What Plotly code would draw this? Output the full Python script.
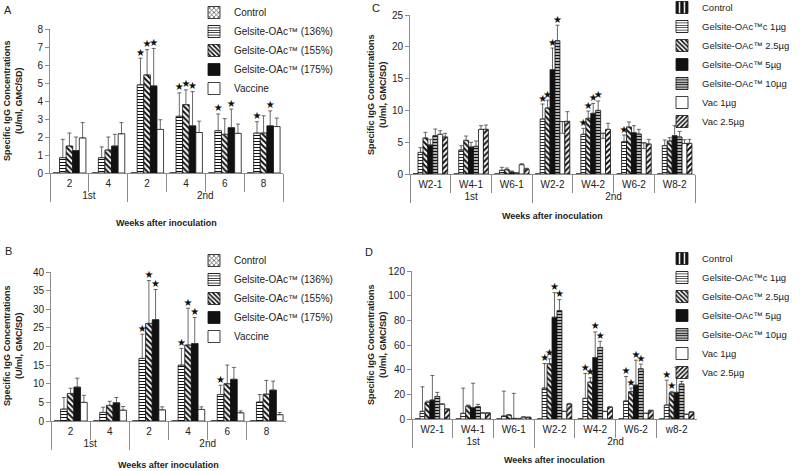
import plotly.graph_objects as go

FONT = "Liberation Sans, Arial, sans-serif"

# ---------------- Panels A and B ----------------
ab_outer = ["1st", "1st", "2nd", "2nd", "2nd", "2nd"]
ab_inner = ["2", "4", "2", "4", "6", "8"]
ab_names = ["Control", "Gelsite-OAc™ (136%)", "Gelsite-OAc™ (155%)",
            "Gelsite-OAc™ (175%)", "Vaccine"]

# Panel A values (U/ml) and upper SD
a_control = [0, 0, 0, 0, 0, 0]
a_g136 = [0.85, 0.85, 4.90, 3.15, 2.35, 2.22]
a_g155 = [1.50, 1.28, 5.45, 3.80, 2.15, 2.22]
a_g175 = [1.25, 1.50, 4.84, 2.62, 2.52, 2.62]
a_vac = [1.95, 2.18, 2.42, 2.25, 2.20, 2.58]
a_err_control = [0, 0, 0, 0, 0, 0]
a_err_g136 = [1.02, 0.60, 1.48, 1.30, 0.93, 0.63]
a_err_g155 = [0.72, 0.72, 1.40, 0.82, 0.87, 0.96]
a_err_g175 = [0.75, 0.65, 2.08, 1.90, 1.03, 0.83]
a_err_vac = [0.85, 0.62, 0.54, 0.63, 0.52, 0.47]
a_star_g136 = [0, 0, 1, 1, 1, 1]
a_star_g155 = [0, 0, 1, 1, 0, 0]
a_star_g175 = [0, 0, 1, 1, 1, 1]

# Panel B values
b_control = [0, 0, 0, 0, 0, 0]
b_g136 = [3.2, 2.3, 16.8, 15.0, 7.1, 5.1]
b_g155 = [7.4, 4.2, 26.2, 20.4, 10.0, 7.2]
b_g175 = [9.1, 4.9, 27.2, 20.8, 11.2, 8.3]
b_vac = [5.0, 2.9, 3.0, 3.1, 2.2, 1.7]
b_err_control = [0, 0, 0, 0, 0, 0]
b_err_g136 = [3.1, 1.4, 6.5, 4.5, 2.5, 2.0]
b_err_g155 = [1.4, 1.1, 11.5, 9.9, 5.0, 3.7]
b_err_g175 = [2.4, 1.4, 8.1, 7.0, 3.2, 2.4]
b_err_vac = [1.9, 1.0, 0.8, 0.7, 0.5, 0.6]
b_star_g136 = [0, 0, 1, 1, 1, 0]
b_star_g155 = [0, 0, 1, 1, 0, 0]
b_star_g175 = [0, 0, 1, 1, 0, 0]

# ---------------- Panels C and D ----------------
cd_outer = ["1st", "1st", "1st", "2nd", "2nd", "2nd", "2nd"]
c_inner = ["W2-1", "W4-1", "W6-1", "W2-2", "W4-2", "W6-2", "W8-2"]
d_inner = ["W2-1", "W4-1", "W6-1", "W2-2", "W4-2", "W6-2", "w8-2"]
cd_names = ["Control", "Gelsite-OAc™c 1µg", "Gelsite-OAc™ 2.5µg",
            "Gelsite-OAc™ 5µg", "Gelsite-OAc™ 10µg", "Vac 1µg", "Vac 2.5µg"]

# Panel C values
c_control = [0.05, 0, 0, 0, 0, 0, 0]
c_g1 = [3.40, 3.77, 0.58, 8.65, 6.24, 5.08, 4.45]
c_g25 = [5.66, 5.29, 0.68, 10.38, 8.75, 7.39, 5.19]
c_g5 = [4.56, 4.25, 0.31, 16.40, 9.54, 6.50, 6.03]
c_g10 = [6.03, 4.35, 0.15, 20.96, 10.00, 6.29, 5.82]
c_vac1 = [6.24, 7.02, 1.47, 8.25, 6.40, 4.90, 4.80]
c_vac25 = [5.82, 7.02, 0.79, 8.28, 7.02, 4.72, 4.82]
c_err_control = [0, 0, 0, 0, 0, 0, 0]
c_err_g1 = [0.75, 0.68, 0.47, 2.35, 0.94, 1.05, 0.90]
c_err_g25 = [0.89, 0.68, 0.26, 1.22, 1.15, 0.79, 0.52]
c_err_g5 = [0.89, 0.73, 0.16, 3.40, 1.56, 1.10, 1.57]
c_err_g10 = [1.04, 0.84, 0.05, 2.44, 1.48, 0.73, 0.88]
c_err_vac1 = [0.56, 0.58, 0.15, 0, 0, 0, 0.60]
c_errminus_vac1 = [0, 0, 0, 1.85, 0.80, 0.90, 0]
c_err_vac25 = [0.57, 0.68, 0.11, 1.52, 0.95, 0.73, 0.63]
c_star_g1 = [0, 0, 0, 1, 1, 1, 0]
c_star_g25 = [0, 0, 0, 1, 1, 0, 0]
c_star_g5 = [0, 0, 0, 1, 1, 0, 0]
c_star_g10 = [0, 0, 0, 1, 1, 0, 0]

# Panel D values
d_control = [0, 0, 0, 0, 0, 0, 0]
d_g1 = [6.2, 4.6, 2.4, 25.1, 16.7, 14.6, 11.3]
d_g25 = [13.5, 10.5, 3.2, 44.7, 29.9, 22.1, 21.3]
d_g5 = [15.4, 9.2, 0.5, 82.5, 49.9, 27.5, 21.6]
d_g10 = [18.3, 10.0, 0.3, 87.9, 58.0, 40.7, 28.3]
d_vac1 = [12.1, 4.9, 1.6, 6.2, 6.2, 4.6, 3.8]
d_vac25 = [8.1, 4.9, 1.4, 12.1, 9.7, 7.0, 5.7]
d_err_control = [0, 0, 0, 0, 0, 0, 0]
d_err_g1 = [19.9, 20.4, 20.2, 19.9, 20.2, 19.9, 20.2]
d_err_g25 = [1.0, 0.8, 0.5, 4.1, 3.5, 3.0, 1.1]
d_err_g5 = [19.9, 19.8, 20.3, 19.9, 20.7, 20.2, 20.2]
d_err_g10 = [3.3, 1.9, 0.2, 8.9, 5.0, 3.8, 2.2]
d_err_vac1 = [0, 0, 0, 0, 0, 0, 0]
d_err_vac25 = [0, 0, 0, 0.6, 0, 0, 0]
d_star_g1 = [0, 0, 0, 1, 1, 1, 1]
d_star_g25 = [0, 0, 0, 1, 1, 1, 1]
d_star_g5 = [0, 0, 0, 1, 1, 1, 0]
d_star_g10 = [0, 0, 0, 1, 1, 1, 0]

a_y_ticks = [0, 1, 2, 3, 4, 5, 6, 7, 8]
b_y_ticks = [0, 5, 10, 15, 20, 25, 30, 35, 40]
c_y_ticks = [0, 5, 10, 15, 20, 25]
d_y_ticks = [0, 20, 40, 60, 80, 100, 120]

x_title = "Weeks after inoculation"
y_title = "Specific IgG Concentrations<br>(U/ml, GMC/SD)"

# ---------------- styles ----------------
LINE = dict(color="#111111", width=0.8)


def pat(shape, fg="#111111", bg="white", size=4, solidity=0.4):
    return dict(shape=shape, fgcolor=fg, bgcolor=bg, size=size,
                solidity=solidity, fillmode="replace")


ab_styles = [
    dict(color="white", pattern=pat("x", size=4, solidity=0.3), line=LINE),
    dict(color="white", pattern=pat("-", size=3, solidity=0.35), line=LINE),
    dict(color="white", pattern=pat("\\", size=4, solidity=0.5), line=LINE),
    dict(color="#111111", line=LINE),
    dict(color="white", line=LINE),
]
cd_styles = [
    dict(color="#111111", pattern=pat("|", fg="white", bg="#111111", size=6, solidity=0.3), line=LINE),
    dict(color="white", pattern=pat("-", size=3, solidity=0.3), line=LINE),
    dict(color="white", pattern=pat("\\", size=4, solidity=0.5), line=LINE),
    dict(color="#111111", line=LINE),
    dict(color="white", pattern=pat("-", size=3, solidity=0.55), line=LINE),
    dict(color="white", line=LINE),
    dict(color="white", pattern=pat("/", size=4, solidity=0.5), line=LINE),
]

fig = go.Figure()


def add_panel(idx, outer, inner, names, vals, errs, stars, styles, legend,
              errminus=None):
    xa = "x" if idx == 1 else f"x{idx}"
    ya = "y" if idx == 1 else f"y{idx}"
    xcat = [outer, inner]
    for i, (name, v, e, st) in enumerate(zip(names, vals, errs, styles)):
        em = errminus.get(i) if errminus else None
        err = dict(type="data", array=e, symmetric=False,
                   arrayminus=em if em is not None else [0] * len(e),
                   color="#444444", thickness=0.8, width=2)
        fig.add_trace(go.Bar(
            x=xcat, y=v, name=name, marker=st, error_y=err,
            offsetgroup=f"p{idx}s{i}", xaxis=xa, yaxis=ya, legend=legend))
        if stars.get(i):
            flags = stars[i]
            ys = [vv + ee if f else None for vv, ee, f in zip(v, e, flags)]
            fig.add_trace(go.Scatter(
                x=xcat, y=ys, mode="text", text="★", textposition="top center",
                textfont=dict(size=10, color="#111111", family="DejaVu Sans"),
                offsetgroup=f"p{idx}s{i}", xaxis=xa, yaxis=ya,
                showlegend=False, hoverinfo="skip", cliponaxis=False))
        else:
            fig.add_trace(go.Scatter(
                x=xcat, y=[None] * len(v), mode="text", text="",
                offsetgroup=f"p{idx}s{i}", xaxis=xa, yaxis=ya,
                showlegend=False, hoverinfo="skip"))


add_panel(1, ab_outer, ab_inner, ab_names,
          [a_control, a_g136, a_g155, a_g175, a_vac],
          [a_err_control, a_err_g136, a_err_g155, a_err_g175, a_err_vac],
          {1: a_star_g136, 2: a_star_g155, 3: a_star_g175}, ab_styles, "legend")
add_panel(2, ab_outer, ab_inner, ab_names,
          [b_control, b_g136, b_g155, b_g175, b_vac],
          [b_err_control, b_err_g136, b_err_g155, b_err_g175, b_err_vac],
          {1: b_star_g136, 2: b_star_g155, 3: b_star_g175}, ab_styles, "legend2")
add_panel(3, cd_outer, c_inner, cd_names,
          [c_control, c_g1, c_g25, c_g5, c_g10, c_vac1, c_vac25],
          [c_err_control, c_err_g1, c_err_g25, c_err_g5, c_err_g10, c_err_vac1, c_err_vac25],
          {1: c_star_g1, 2: c_star_g25, 3: c_star_g5, 4: c_star_g10}, cd_styles, "legend3",
          errminus={5: c_errminus_vac1})
add_panel(4, cd_outer, d_inner, cd_names,
          [d_control, d_g1, d_g25, d_g5, d_g10, d_vac1, d_vac25],
          [d_err_control, d_err_g1, d_err_g25, d_err_g5, d_err_g10, d_err_vac1, d_err_vac25],
          {1: d_star_g1, 2: d_star_g25, 3: d_star_g5, 4: d_star_g10}, cd_styles, "legend4")

W, H = 800, 471


def px_x(p):
    return p / W


def px_y(p):
    return 1 - p / H


AXCOL = "#8c8c8c"
TICKFONT = dict(family=FONT, size=10, color="#222222")

panels = {
    1: dict(x0=50, x1=283, y0=173, y1=29, rng=[0, 8], ticks=a_y_ticks),
    2: dict(x0=51, x1=286, y0=421, y1=272, rng=[0, 40], ticks=b_y_ticks),
    3: dict(x0=410, x1=695, y0=174, y1=15, rng=[0, 25], ticks=c_y_ticks),
    4: dict(x0=412, x1=697, y0=419, y1=271, rng=[0, 120], ticks=d_y_ticks),
}

layout = dict(
    width=W, height=H, margin=dict(l=0, r=0, t=0, b=0, autoexpand=False),
    paper_bgcolor="white", plot_bgcolor="white",
    barmode="group", bargap=0.15, bargroupgap=0,
    scattermode="group", scattergap=0.15,
    font=dict(family=FONT, color="#222222"),
    annotations=[],
)

for k, p in panels.items():
    xs = "xaxis" if k == 1 else f"xaxis{k}"
    ys = "yaxis" if k == 1 else f"yaxis{k}"
    layout[xs] = dict(
        type="multicategory", domain=[px_x(p["x0"]), px_x(p["x1"])],
        anchor="y" if k == 1 else f"y{k}",
        showline=True, linecolor=AXCOL, linewidth=1,
        ticks="outside", ticklen=18, tickcolor=AXCOL, tickwidth=1,
        ticklabelstandoff=1,
        showdividers=True, dividercolor=AXCOL, dividerwidth=1,
        tickfont=TICKFONT, automargin=False, showgrid=False, fixedrange=True)
    layout[ys] = dict(
        domain=[px_y(p["y0"]), px_y(p["y1"])],
        anchor="x" if k == 1 else f"x{k}",
        range=p["rng"], tickvals=p["ticks"], ticks="outside", ticklen=4,
        tickcolor=AXCOL, showline=True, linecolor=AXCOL, linewidth=1,
        showgrid=False, zeroline=False, tickfont=TICKFONT, automargin=False,
        fixedrange=True)

# axis titles & panel letters (positions in page pixels)
title_pos = {1: (13, 101, 223), 2: (13, 346, 465), 3: (377, 95, 216), 4: (377, 345, 460)}
letters = {1: ("A", 8, 10), 2: ("B", 8, 251), 3: ("C", 376, 8), 4: ("D", 369, 252)}
for k, (tx, ty, xty) in title_pos.items():
    p = panels[k]
    layout["annotations"].append(dict(
        text=f"<b>{y_title}</b>", x=px_x(tx), y=px_y(ty), xref="paper", yref="paper",
        textangle=-90, showarrow=False, font=dict(family=FONT, size=9, color="#222222"),
        xanchor="center", yanchor="middle"))
    layout["annotations"].append(dict(
        text=f"<b>{x_title}</b>", x=px_x((p["x0"] + p["x1"]) / 2), y=px_y(xty),
        xref="paper", yref="paper", showarrow=False,
        font=dict(family=FONT, size=9, color="#222222"), xanchor="center", yanchor="middle"))
for k, (t, lx, ly) in letters.items():
    layout["annotations"].append(dict(
        text=t, x=px_x(lx), y=px_y(ly), xref="paper", yref="paper", showarrow=False,
        font=dict(family=FONT, size=11, color="#222222"), xanchor="center", yanchor="middle"))

leg_common = dict(bgcolor="rgba(0,0,0,0)", borderwidth=0, itemwidth=30,
                  font=dict(family=FONT, size=10, color="#222222"),
                  xanchor="left", yanchor="top", traceorder="normal")
leg_cd = dict(leg_common, font=dict(family=FONT, size=9.5, color="#222222"))
layout["legend"] = dict(leg_common, x=px_x(194), y=px_y(-2))
layout["legend2"] = dict(leg_common, x=px_x(194), y=px_y(246))
layout["legend3"] = dict(leg_cd, x=px_x(662), y=px_y(-7))
layout["legend4"] = dict(leg_cd, x=px_x(662), y=px_y(244))

fig.update_layout(**layout)
fig.write_html("out.html", config={"displayModeBar": False},
               post_script="document.body.style.margin='0px';")
